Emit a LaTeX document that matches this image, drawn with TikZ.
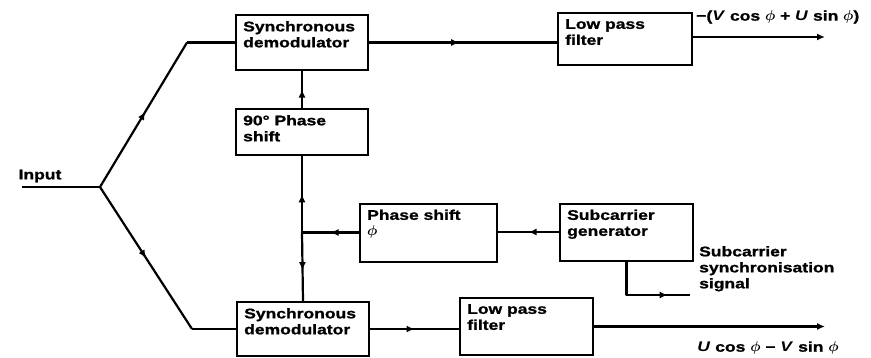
\documentclass[tikz,border=0pt]{standalone}
\usepackage{fontspec}
\setmainfont{Liberation Sans}[FakeStretch=1.25,BoldFeatures={FakeBold=1.2}]
\usetikzlibrary{arrows.meta,positioning,calc,decorations.markings}
\newcommand\boxfont{\fontsize{14}{16}\selectfont\bfseries\boldmath}
\tikzset{
  basebox/.style={rectangle,draw=black,line width=2pt,inner sep=0pt},
  boxtext/.style={label={[anchor=north west,align=left,inner sep=0pt,
    xshift=8pt,yshift=-7pt,font=\boxfont]north west:#1}},
  wire/.style={line width=2.2pt,line join=round},
  midarrow/.style={wire,postaction={decorate,decoration={markings,
    mark=at position #1 with {\arrow{Latex[length=8pt,width=7pt]}}}}},
  outarrow/.style={wire,-{Latex[length=8pt,width=7pt]}}
}

\begin{document}
\begin{tikzpicture}[x=1pt,y=-1pt,every node/.style={font=\boxfont}]
  \useasboundingbox (0,0) rectangle (871,357);
  % blocks
  \node[basebox,minimum width=132pt,minimum height=55pt,boxtext={Synchronous\\demodulator}] (sdt) at (302,42.5) {};
  \node[basebox,minimum width=132pt,minimum height=46pt,boxtext={90° Phase\\shift}] (ph90) at (302,132) {};
  \node[basebox,minimum width=132pt,minimum height=54pt,boxtext={Synchronous\\demodulator}] (sdb) at (303,329) {};
  \node[basebox,minimum width=137pt,minimum height=58pt,boxtext={Phase shift\\$\phi$}] (phs) at (428.5,232.5) {};
  \node[basebox,minimum width=133pt,minimum height=57pt,boxtext={Subcarrier\\generator}] (scg) at (626.5,232) {};
  \node[basebox,minimum width=134pt,minimum height=52pt,boxtext={Low pass\\filter}] (lpft) at (625,39) {};
  \node[basebox,minimum width=133pt,minimum height=57pt,boxtext={Low pass\\filter}] (lpfb) at (526.5,326.5) {};
  % labels
  \node (inlbl) at (40,176) {Input};
  \node[anchor=west,inner sep=0pt] (toplbl) at (696,17) {−(\textit{V} cos $\phi$ + \textit{U} sin $\phi$)};
  \node[inner sep=0pt] (botlbl) at (768,348) {\textit{U} cos $\phi$ − \textit{V} sin $\phi$};
  \node[anchor=north west,align=left,inner sep=0pt] (synclbl) at (699,246) {Subcarrier\\synchronisation\\signal};
  % points
  \coordinate (in) at (22,187);
  \coordinate (br) at (100,187);
  \coordinate (ctop) at (187,42.5);
  \coordinate (cbot) at (192,329);
  \coordinate (jn) at (sdt.south |- phs.west);
  \coordinate (otop) at (825,37);
  \coordinate (obot) at (825,326.5);
  \coordinate (osync) at (690,295);
  % input split
  \draw[wire] (in) -- (br);
  \draw[midarrow=0.52] (br) -- (ctop);
  \draw[wire] (ctop) -- (sdt.west);
  \draw[midarrow=0.5] (br) -- (cbot);
  \draw[wire] (cbot) -- (sdb.west);
  % reference chain
  \draw[midarrow=0.5] (scg.west) -- (scg.west -| phs.east);
  \draw[midarrow=0.5] (phs.west) -- (jn);
  \draw[midarrow=0.5] (jn) -- (ph90.south);
  \draw[midarrow=0.55] (jn) -- (sdb.north);
  \draw[midarrow=0.5] (ph90.north) -- (sdt.south);
  \draw[midarrow=0.77] (scg.south) -- (scg.south |- osync) -- (osync);
  % outputs
  \draw[midarrow=0.48] (sdt.east) -- (sdt.east -| lpft.west);
  \draw[outarrow] (lpft.east |- otop) -- (otop);
  \draw[midarrow=0.5] (sdb.east) -- (sdb.east -| lpfb.west);
  \draw[outarrow] (lpfb.east) -- (obot);
\end{tikzpicture}
\end{document}
